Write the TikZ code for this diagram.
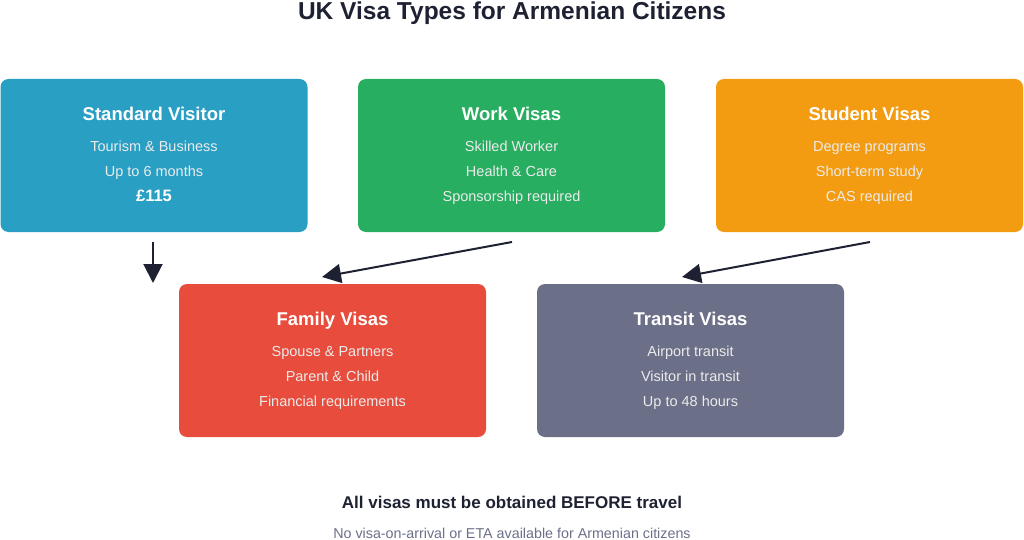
\documentclass[tikz,border=0pt]{standalone}
\usepackage{fontspec}
\setmainfont{Liberation Sans}
\usetikzlibrary{arrows.meta}
\definecolor{cblue}{HTML}{2A9FC4}
\definecolor{cgreen}{HTML}{27AE60}
\definecolor{corange}{HTML}{F39C12}
\definecolor{cred}{HTML}{E74C3C}
\definecolor{cgray}{HTML}{6B6F87}
\definecolor{cdark}{HTML}{1E2132}
\definecolor{csub}{HTML}{6B7089}
\tikzset{
  x=1pt, y=-1pt,
  visabox/.style={rounded corners=8pt, minimum width=307pt, minimum height=153pt, inner sep=0pt, draw=none},
  boxtitle/.style={text=white, font=\fontsize{18.5}{20}\selectfont\bfseries, anchor=base, inner sep=0pt},
  boxline/.style={text=white!92!black, font=\fontsize{14.5}{16}\selectfont, anchor=base, inner sep=0pt},
  conn/.style={draw=cdark, line width=2pt, -{Triangle[length=19pt,width=19pt]}},
}
\begin{document}
\begin{tikzpicture}
\useasboundingbox (0,0) rectangle (1024,540);
\node[font=\fontsize{24.5}{26}\selectfont\bfseries, text=cdark, anchor=base, inner sep=0pt] (title) at (512,20) {UK Visa Types for Armenian Citizens};

% boxes
\node[visabox, fill=cblue] (sv) at (154,155.5) {};
\node[visabox, fill=cgreen] (wv) at (511.5,155.5) {};
\node[visabox, fill=corange] (st) at (869.5,155.5) {};
\node[visabox, fill=cred] (fv) at (332.5,360.5) {};
\node[visabox, fill=cgray] (tv) at (690.5,360.5) {};

% Standard Visitor
\node[boxtitle] (svt) at (154,120.5) {Standard Visitor};
\node[boxline] (sv1) at (154,151.5) {Tourism \& Business};
\node[boxline] (sv2) at (154,176.5) {Up to 6 months};
\node[boxline, text=white, font=\fontsize{16.5}{18}\selectfont\bfseries] (sv3) at (154,201.5) {£115};

% Work
\node[boxtitle] (wvt) at (511.5,120.5) {Work Visas};
\node[boxline] (wv1) at (511.5,151.5) {Skilled Worker};
\node[boxline] (wv2) at (511.5,176.5) {Health \& Care};
\node[boxline] (wv3) at (511.5,201.5) {Sponsorship required};

% Student
\node[boxtitle] (stt) at (869.5,120.5) {Student Visas};
\node[boxline] (st1) at (869.5,151.5) {Degree programs};
\node[boxline] (st2) at (869.5,176.5) {Short-term study};
\node[boxline] (st3) at (869.5,201.5) {CAS required};

% Family
\node[boxtitle] (fvt) at (332.5,325.5) {Family Visas};
\node[boxline] (fv1) at (332.5,356.5) {Spouse \& Partners};
\node[boxline] (fv2) at (332.5,381.5) {Parent \& Child};
\node[boxline] (fv3) at (332.5,406.5) {Financial requirements};

% Transit
\node[boxtitle] (tvt) at (690.5,325.5) {Transit Visas};
\node[boxline] (tv1) at (690.5,356.5) {Airport transit};
\node[boxline] (tv2) at (690.5,381.5) {Visitor in transit};
\node[boxline] (tv3) at (690.5,406.5) {Up to 48 hours};

% connectors
\coordinate (a1s) at (153,242);
\coordinate (a1e) at (153,283);
\coordinate (a2s) at (512,242);
\coordinate (a2e) at (322,277);
\coordinate (a3s) at (870,242);
\coordinate (a3e) at (682,277);
\draw[conn] (a1s) -- (a1e);
\draw[conn] (a2s) -- (a2e);
\draw[conn] (a3s) -- (a3e);

% footer
\node[font=\fontsize{17}{19}\selectfont\bfseries, text=cdark, anchor=base, inner sep=0pt] (f1) at (512,508.5) {All visas must be obtained BEFORE travel};
\node[font=\fontsize{14.3}{16}\selectfont, text=csub, anchor=base, inner sep=0pt] (f2) at (512,538.5) {No visa-on-arrival or ETA available for Armenian citizens};
\end{tikzpicture}
\end{document}
